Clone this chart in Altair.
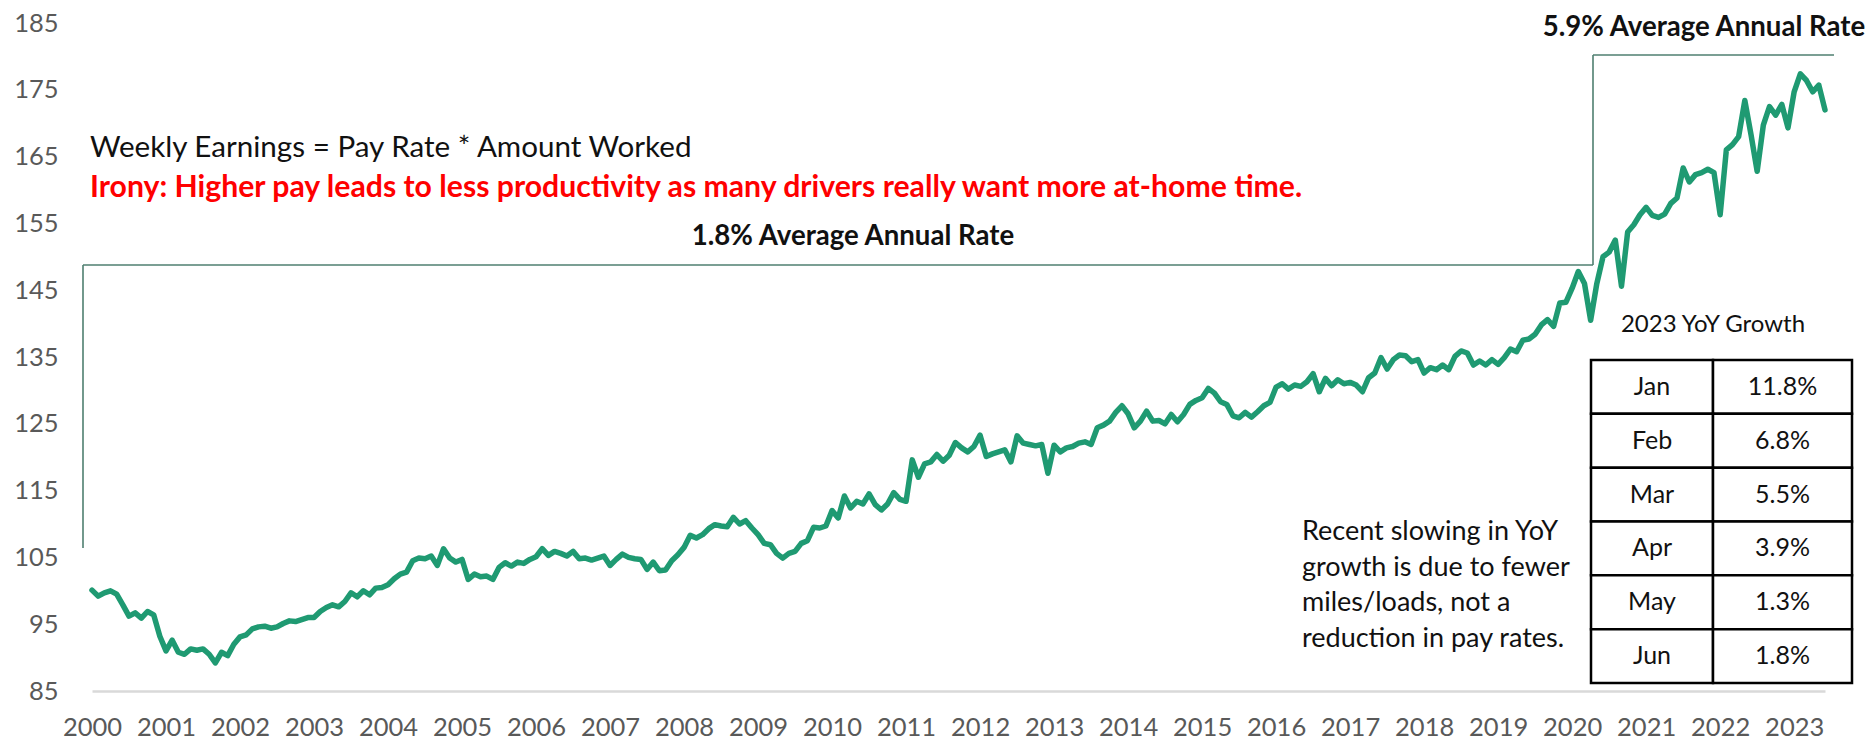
import altair as alt
import pandas as pd

# ---------------- data (index, monthly, Jan 2000 = 100) ----------------
y2000 = [100.1, 99.2, 99.7, 100.0, 99.5, 97.9, 96.2, 96.7, 95.9, 96.9, 96.4, 93.2]
y2001 = [91.0, 92.6, 90.8, 90.5, 91.3, 91.1, 91.3, 90.5, 89.2, 90.8, 90.3, 92.0]
y2002 = [93.1, 93.4, 94.3, 94.6, 94.7, 94.4, 94.6, 95.1, 95.5, 95.4, 95.7, 96.0]
y2003 = [96.0, 96.9, 97.5, 97.9, 97.6, 98.4, 99.7, 99.1, 100.0, 99.4, 100.4, 100.5]
y2004 = [100.9, 101.8, 102.5, 102.8, 104.5, 104.9, 104.8, 105.2, 103.8, 106.3, 104.9, 104.3]
y2005 = [104.7, 101.7, 102.5, 102.1, 102.2, 101.7, 103.5, 104.2, 103.7, 104.3, 104.1, 104.7]
y2006 = [105.1, 106.3, 105.3, 105.9, 105.6, 105.2, 105.9, 104.8, 104.9, 104.6, 104.9, 105.2]
y2007 = [103.8, 104.7, 105.5, 105.0, 104.8, 104.7, 103.2, 104.3, 103.0, 103.1, 104.5, 105.4]
y2008 = [106.5, 108.3, 107.9, 108.4, 109.3, 109.9, 109.7, 109.6, 111.0, 110.0, 110.5, 109.4]
y2009 = [108.4, 107.1, 106.9, 105.6, 104.9, 105.6, 105.9, 107.1, 107.5, 109.5, 109.4, 109.7]
y2010 = [112.0, 110.9, 114.2, 112.4, 113.4, 113.0, 114.5, 112.9, 112.1, 113.0, 114.7, 113.7]
y2011 = [113.4, 119.6, 117.0, 119.0, 119.3, 120.4, 119.4, 120.3, 122.2, 121.4, 120.8, 121.6]
y2012 = [123.3, 120.1, 120.5, 120.8, 121.1, 119.3, 123.2, 122.1, 121.9, 121.7, 121.9, 117.6]
y2013 = [121.8, 120.8, 121.4, 121.6, 122.1, 122.3, 121.9, 124.4, 124.8, 125.4, 126.7, 127.7]
y2014 = [126.5, 124.4, 125.4, 126.9, 125.4, 125.5, 125.0, 126.4, 125.3, 126.4, 127.9, 128.5]
y2015 = [128.9, 130.3, 129.6, 128.3, 127.9, 126.2, 125.9, 126.7, 126.0, 126.8, 127.7, 128.2]
y2016 = [130.5, 131.0, 130.2, 130.8, 130.6, 131.3, 132.5, 129.8, 131.8, 130.7, 131.6, 131.0]
y2017 = [131.2, 130.8, 129.8, 131.9, 132.6, 134.9, 133.2, 134.6, 135.3, 135.2, 134.3, 134.6]
y2018 = [132.6, 133.4, 133.1, 133.8, 133.1, 135.1, 135.9, 135.6, 133.8, 134.4, 133.8, 134.6]
y2019 = [133.9, 134.9, 136.2, 135.8, 137.5, 137.7, 138.4, 139.8, 140.6, 139.6, 143.1, 143.2]
y2020 = [145.3, 147.8, 146.0, 140.5, 146.0, 150.0, 150.7, 152.5, 145.6, 153.7, 154.8, 156.3]
y2021 = [157.4, 156.2, 155.9, 156.4, 158.0, 158.8, 163.3, 161.2, 162.3, 162.6, 163.1, 162.6]
y2022 = [156.3, 166.0, 166.8, 168.0, 173.4, 168.3, 162.8, 169.7, 172.5, 171.2, 172.8, 169.3]
y2023 = [174.7, 177.4, 176.4, 174.7, 175.7, 172.0]

series_by_year = {
    2000: y2000, 2001: y2001, 2002: y2002, 2003: y2003, 2004: y2004, 2005: y2005,
    2006: y2006, 2007: y2007, 2008: y2008, 2009: y2009, 2010: y2010, 2011: y2011,
    2012: y2012, 2013: y2013, 2014: y2014, 2015: y2015, 2016: y2016, 2017: y2017,
    2018: y2018, 2019: y2019, 2020: y2020, 2021: y2021, 2022: y2022, 2023: y2023,
}

year_ticks = list(range(2000, 2024))
value_ticks = list(range(85, 186, 10))

table_months = ["Jan", "Feb", "Mar", "Apr", "May", "Jun"]
table_yoy = ["11.8%", "6.8%", "5.5%", "3.9%", "1.3%", "1.8%"]

note_lines = ["Recent slowing in YoY", "growth is due to fewer",
              "miles/loads, not a", "reduction in pay rates."]

rows = []
for yr, vals in series_by_year.items():
    for i, v in enumerate(vals):
        rows.append({"t": yr + i / 12.0, "v": v})
df = pd.DataFrame(rows)

# ---------------- layout helpers ----------------
X_DOMAIN = [2000, 2023 + 5 / 12.0]
Y_DOMAIN = [85, 185]
LEFT, TOP = 92, 23      # page position of plot origin
RIGHT_EDGE, BOTTOM = 1825, 691
W, H = RIGHT_EDGE - LEFT, BOTTOM - TOP
PAGE_W, PAGE_H = 1876, 749


def tx(px):
    return X_DOMAIN[0] + (px - LEFT) / W * (X_DOMAIN[1] - X_DOMAIN[0])


def vy(py):
    return Y_DOMAIN[1] - (py - TOP) / H * (Y_DOMAIN[1] - Y_DOMAIN[0])


xs = alt.Scale(domain=X_DOMAIN, nice=False, zero=False)
ys = alt.Scale(domain=Y_DOMAIN, nice=False, zero=False)

FONT = "Lato"
LINE_COLOR = "#1f9a72"
BRACKET_COLOR = "#4f7f70"

x_axis = alt.Axis(
    values=year_ticks, format="d", title=None, grid=False, ticks=False, tickSize=0,
    labelPadding=24, labelFontSize=25.5, labelColor="#595959", labelFont=FONT,
    domainColor="#d9d9d9", domainWidth=2.5, labelFlush=False, labelOverlap=False,
    labelBound=False)
y_axis = alt.Axis(
    values=value_ticks, title=None, grid=False, ticks=False, tickSize=0, domain=False,
    labelPadding=34, labelFontSize=25.5, labelColor="#595959", labelFont=FONT,
    labelFlush=False, labelOverlap=False, labelBound=False)

line = alt.Chart(df).mark_line(
    color=LINE_COLOR, strokeWidth=5.5, strokeJoin="round", strokeCap="round"
).encode(
    x=alt.X("t:Q", scale=xs, axis=x_axis),
    y=alt.Y("v:Q", scale=ys, axis=y_axis),
)

# brackets (average-rate periods)
lvl_low = vy(265)
lvl_high = vy(55)
bracket_df = pd.DataFrame([
    {"t1": tx(83), "t2": tx(83), "v1": vy(548), "v2": lvl_low},
    {"t1": tx(83), "t2": tx(1593), "v1": lvl_low, "v2": lvl_low},
    {"t1": tx(1593), "t2": tx(1593), "v1": lvl_low, "v2": lvl_high},
    {"t1": tx(1593), "t2": tx(1834), "v1": lvl_high, "v2": lvl_high},
])
brackets = alt.Chart(bracket_df).mark_rule(color=BRACKET_COLOR, strokeWidth=1.6).encode(
    x=alt.X("t1:Q", scale=xs, axis=x_axis), x2="t2:Q",
    y=alt.Y("v1:Q", scale=ys, axis=y_axis), y2="v2:Q",
)

# table cells
col_edges = [1591, 1713, 1852]
row_top, row_bottom = 360, 683
row_h = (row_bottom - row_top) / len(table_months)
cells = []
cell_text = []
for i, (m, p) in enumerate(zip(table_months, table_yoy)):
    y0 = row_top + i * row_h
    y1 = y0 + row_h
    for c in range(2):
        cells.append({"t1": tx(col_edges[c]), "t2": tx(col_edges[c + 1]),
                      "v1": vy(y0), "v2": vy(y1)})
    cell_text.append({"t": tx((col_edges[0] + col_edges[1]) / 2), "v": vy((y0 + y1) / 2), "label": m})
    cell_text.append({"t": tx((col_edges[1] + col_edges[2]) / 2), "v": vy((y0 + y1) / 2), "label": p})

table = alt.Chart(pd.DataFrame(cells)).mark_rect(
    fill="white", stroke="black", strokeWidth=2.5
).encode(
    x=alt.X("t1:Q", scale=xs, axis=x_axis), x2="t2:Q",
    y=alt.Y("v1:Q", scale=ys, axis=y_axis), y2="v2:Q",
)


def text_layer(rows_, **kw):
    return alt.Chart(pd.DataFrame(rows_)).mark_text(font=FONT, baseline="middle", **kw).encode(
        x=alt.X("t:Q", scale=xs, axis=x_axis),
        y=alt.Y("v:Q", scale=ys, axis=y_axis),
        text="label:N",
    )


weekly = text_layer([{"t": tx(90), "v": vy(148), "label": "Weekly Earnings = Pay Rate * Amount Worked"}],
                    align="left", fontSize=29.6, color="#111111")
irony = text_layer([{"t": tx(90), "v": vy(188),
                     "label": "Irony: Higher pay leads to less productivity as many drivers really want more at-home time."}],
                   align="left", fontSize=30.2, fontWeight="bold", color="#ff0000")
rates = text_layer([
    {"t": tx(853), "v": vy(237), "label": "1.8% Average Annual Rate"},
    {"t": tx(1704), "v": vy(28), "label": "5.9% Average Annual Rate"},
], align="center", fontSize=27.6, fontWeight="bold", color="#111111")
yoy_title = text_layer([{"t": tx(1713), "v": vy(325), "label": "2023 YoY Growth"}],
                       align="center", fontSize=24, color="#111111")
notes = text_layer([{"t": tx(1302), "v": vy(532 + i * 35.7), "label": s} for i, s in enumerate(note_lines)],
                   align="left", fontSize=27, color="#111111")
tbl_text = text_layer(cell_text, align="center", fontSize=25, color="#111111")

chart = alt.layer(
    line, brackets, table, weekly, irony, rates, yoy_title, notes, tbl_text
).properties(
    width=W, height=H,
    autosize=alt.AutoSizeParams(type="none"),
    padding={"left": LEFT - 8, "top": TOP - 8,
             "right": PAGE_W - 8 - RIGHT_EDGE - 1,
             "bottom": PAGE_H - 8 - BOTTOM},
    background="white",
).configure_view(stroke=None)

chart.save("out.html", embed_options={"renderer": "svg", "actions": False})
